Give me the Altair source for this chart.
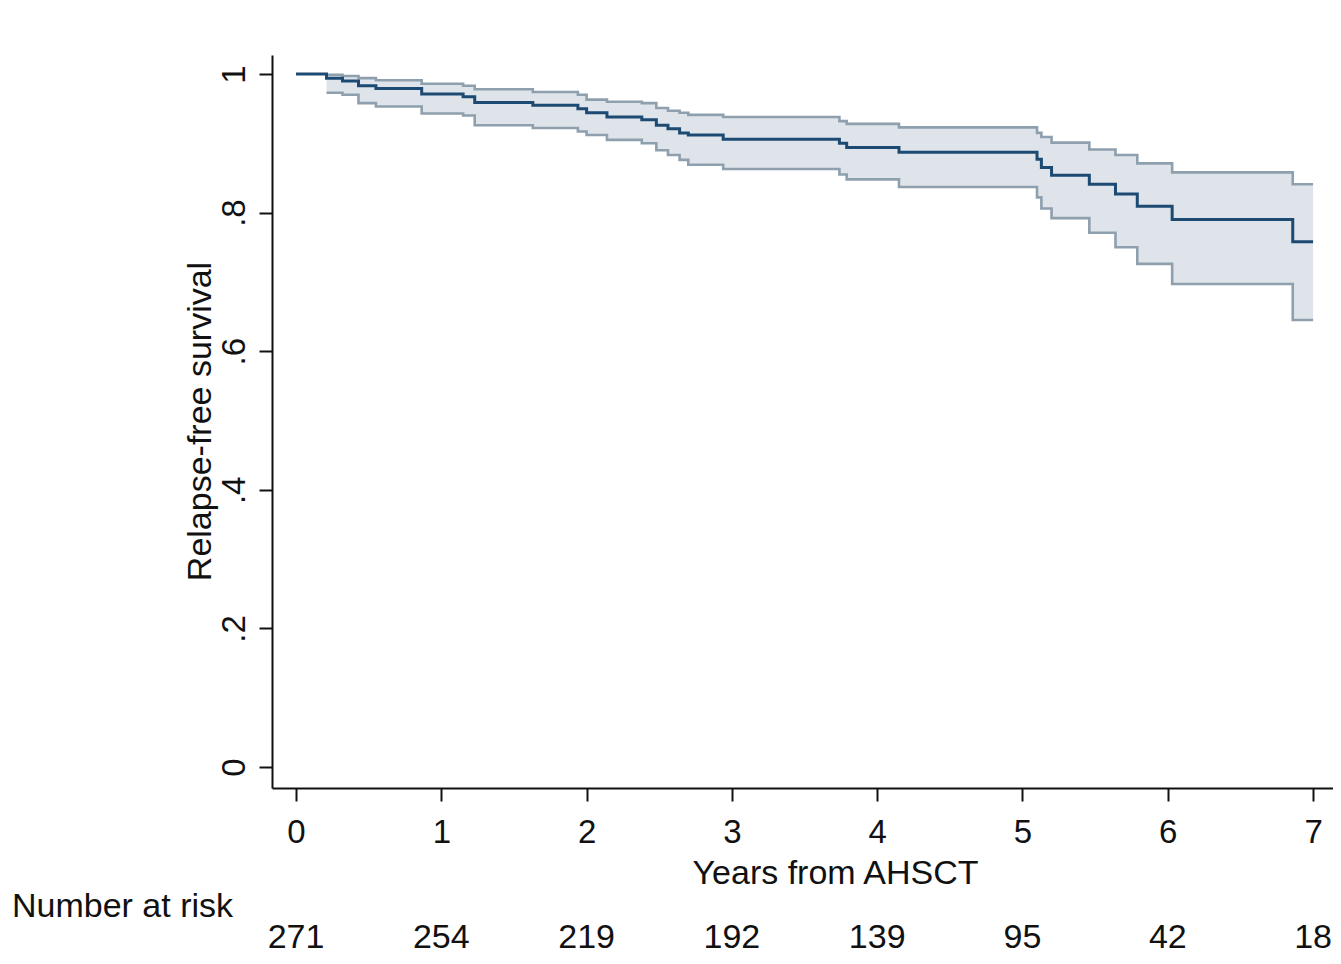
import altair as alt
import pandas as pd

# Kaplan-Meier step points (years)
times = [0, 0.21, 0.32, 0.43, 0.55, 0.865, 1.15, 1.23, 1.63, 1.94, 2.0, 2.14, 2.38, 2.48,
         2.56, 2.64, 2.70, 2.94, 3.74, 3.79, 4.15, 5.10, 5.13, 5.20, 5.46, 5.64, 5.79,
         6.03, 6.86, 7.0]
surv = [1.0, 0.994, 0.990, 0.983, 0.979, 0.971, 0.967, 0.959, 0.955, 0.950, 0.944, 0.938,
        0.934, 0.926, 0.921, 0.915, 0.912, 0.906, 0.900, 0.894, 0.887, 0.877, 0.865, 0.854,
        0.841, 0.827, 0.809, 0.790, 0.758, 0.758]
# confidence band (starts at first event)
ci_times = times[1:]
upper = [0.999, 0.997, 0.994, 0.991, 0.986, 0.983, 0.978, 0.974, 0.970, 0.963, 0.960,
         0.958, 0.951, 0.947, 0.944, 0.941, 0.938, 0.932, 0.928, 0.923, 0.915, 0.909,
         0.901, 0.891, 0.883, 0.871, 0.858, 0.841, 0.841]
lower = [0.973, 0.970, 0.958, 0.953, 0.943, 0.940, 0.926, 0.922, 0.917, 0.912, 0.905,
         0.900, 0.890, 0.883, 0.876, 0.869, 0.863, 0.855, 0.848, 0.837, 0.822, 0.806,
         0.792, 0.771, 0.750, 0.726, 0.697, 0.645, 0.645]

risk_years = [0, 1, 2, 3, 4, 5, 6, 7]
risk_n = [271, 254, 219, 192, 139, 95, 42, 18]

FONT = "Liberation Sans"
NAVY = "#1c4a72"
CI_LINE = "#8e9fae"
CI_FILL = "#dfe4eb"
TXT = "#111111"

km = pd.DataFrame({"t": times, "s": surv})
ci = pd.DataFrame({"t": ci_times, "hi": upper, "lo": lower})
risk = pd.DataFrame({"t": risk_years, "n": [str(v) for v in risk_n]})
lab = pd.DataFrame({"txt": ["Number at risk"]})

xscale = alt.Scale(domain=[-0.1652, 7.137], nice=False, zero=False)
yscale = alt.Scale(domain=[-0.0303, 1.0274], nice=False, zero=False)

xaxis = alt.Axis(
    values=risk_years, format="d", title="Years from AHSCT", grid=False,
    labelFontSize=33, labelFont=FONT, labelColor=TXT, labelBaseline="alphabetic",
    labelPadding=41, tickSize=13, tickWidth=2, tickColor=TXT,
    domainWidth=2, domainColor=TXT,
    titleFont=FONT, titleFontSize=34, titleFontWeight="normal", titleColor=TXT,
    titleX=563, titleY=95, titleAlign="center", titleBaseline="alphabetic",
)
yaxis = alt.Axis(
    values=[0, 0.2, 0.4, 0.6, 0.8, 1.0], grid=False,
    labelExpr="datum.value == 0 ? '0' : (datum.value == 1 ? '1' : replace(format(datum.value, '.1f'), '0.', '.'))",
    labelAngle=270, labelAlign="center", labelBaseline="alphabetic",
    labelFontSize=33, labelFont=FONT, labelColor=TXT, labelPadding=15,
    tickSize=13, tickWidth=2, tickColor=TXT, domainWidth=2, domainColor=TXT,
    title="Relapse-free survival", titleFont=FONT, titleFontSize=34,
    titleFontWeight="normal", titleColor=TXT, titleAngle=270,
    titleX=-62, titleY=366, titleAlign="center", titleBaseline="alphabetic",
)

band = alt.Chart(ci).mark_area(interpolate="step-after", color=CI_FILL, opacity=1).encode(
    x=alt.X("t:Q", scale=xscale, axis=xaxis),
    y=alt.Y("lo:Q", scale=yscale, axis=yaxis),
    y2="hi:Q",
)
up_line = alt.Chart(ci).mark_line(interpolate="step-after", color=CI_LINE, strokeWidth=2.6).encode(
    x="t:Q", y="hi:Q")
lo_line = alt.Chart(ci).mark_line(interpolate="step-after", color=CI_LINE, strokeWidth=2.6).encode(
    x="t:Q", y="lo:Q")
main = alt.Chart(km).mark_line(interpolate="step-after", color=NAVY, strokeWidth=3).encode(
    x="t:Q", y="s:Q")

risk_txt = alt.Chart(risk).mark_text(
    font=FONT, fontSize=34, color=TXT, align="center", baseline="alphabetic"
).encode(x="t:Q", y=alt.value(893), text="n:N")

title_txt = alt.Chart(lab).mark_text(
    font=FONT, fontSize=34, color=TXT, align="left", baseline="alphabetic"
).encode(x=alt.value(-260), y=alt.value(862), text="txt:N")

chart = alt.layer(band, up_line, lo_line, main, risk_txt, title_txt).properties(
    width=1061, height=733,
    autosize=alt.AutoSizeParams(type="none"),
    padding={"left": 264, "top": 47, "right": 0, "bottom": 168},
    background="white",
).configure_view(stroke=None)

chart.save("out.html", embed_options={"renderer": "svg", "actions": False})
